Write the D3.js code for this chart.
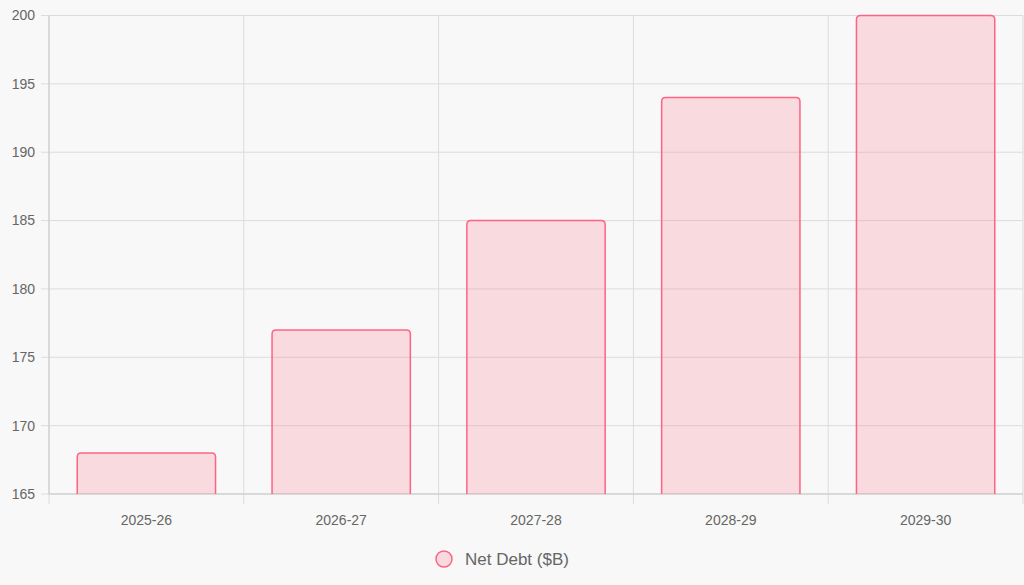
<!DOCTYPE html>
<html><head><meta charset="utf-8">
<script src="https://cdn.jsdelivr.net/npm/d3@7"></script>
<style>body{margin:0;background:#f7f8f7;}svg{display:block;font-family:"Liberation Sans",Arial,sans-serif;}</style>
</head><body><svg id="c" width="1024" height="585"></svg>
<script>
const categories=["2025-26","2026-27","2027-28","2028-29","2029-30"];
const netDebt=[168,177,185,194,200];
const yTicks=[165,170,175,180,185,190,195,200];
const seriesName="Net Debt ($B)";

const svg=d3.select("#c");
const L=49,R=1023,T=15.5,B=494;
const x=d3.scaleBand().domain(categories).range([L,R]).paddingInner(0.29).paddingOuter(0.145);
const xc=d3.scaleBand().domain(categories).range([L,R]);
const y=d3.scaleLinear().domain([165,200]).range([B,T]);
const grid="#dcdcdc";
svg.selectAll(".hg").data(yTicks).enter().append("line")
 .attr("x1",L-8).attr("x2",R).attr("y1",d=>y(d)).attr("y2",d=>y(d)).attr("stroke",grid);
const vx=categories.map(c=>xc(c)).concat([R]);
svg.selectAll(".vg").data(vx).enter().append("line")
 .attr("x1",d=>d).attr("x2",d=>d).attr("y1",T).attr("y2",B+10).attr("stroke",grid);
svg.append("line").attr("x1",L).attr("x2",R).attr("y1",B).attr("y2",B).attr("stroke","#c8c8c8");
svg.append("line").attr("x1",L).attr("x2",L).attr("y1",T).attr("y2",B).attr("stroke","#c8c8c8");
svg.selectAll(".yl").data(yTicks).enter().append("text")
 .attr("x",L-14).attr("y",d=>y(d)).attr("dy","0.35em").attr("text-anchor","end")
 .attr("font-size",14).attr("fill","#666").text(d=>d);
svg.selectAll(".xl").data(categories).enter().append("text")
 .attr("x",d=>xc(d)+xc.bandwidth()/2).attr("y",525).attr("text-anchor","middle")
 .attr("font-size",14).attr("fill","#666").text(d=>d);
const r=4;
svg.selectAll(".bar").data(netDebt).enter().append("path")
 .attr("d",(d,i)=>{const x0=x(categories[i]),x1=x0+x.bandwidth(),y0=y(d);
   return `M${x0},${B}V${y0+r}Q${x0},${y0} ${x0+r},${y0}H${x1-r}Q${x1},${y0} ${x1},${y0+r}V${B}`;})
 .attr("fill","rgba(255,99,132,0.2)").attr("stroke","rgb(255,99,132)").attr("stroke-width",1.5);
svg.append("circle").attr("cx",444).attr("cy",559).attr("r",8)
 .attr("fill","rgba(255,99,132,0.2)").attr("stroke","rgb(255,99,132)").attr("stroke-width",1.5);
svg.append("text").attr("x",465).attr("y",559).attr("dy","0.35em").attr("font-size",17).attr("fill","#666").text(seriesName);
</script></body></html>
